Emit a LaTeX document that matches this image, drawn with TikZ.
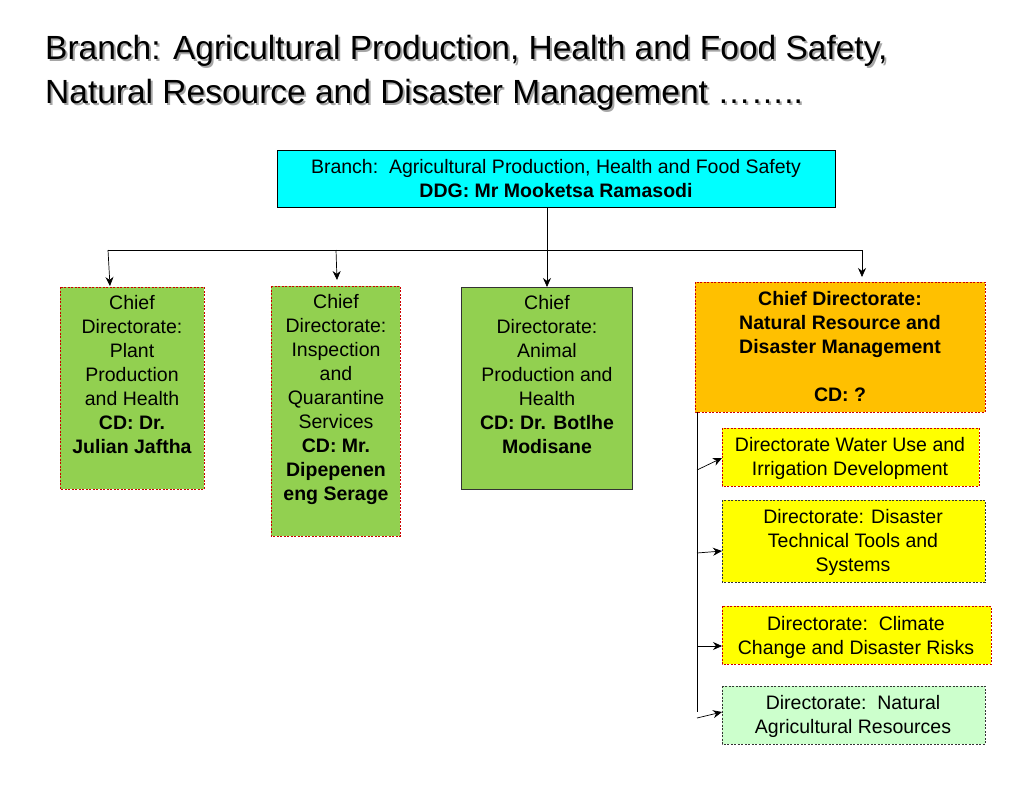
\documentclass[tikz,border=0pt]{standalone}
\usepackage{fontspec}
\usetikzlibrary{arrows.meta}
\setmainfont{Liberation Sans}
\definecolor{cgreen}{HTML}{92D050}
\definecolor{corange}{HTML}{FFC000}
\definecolor{ccyan}{HTML}{00FFFF}
\definecolor{cyel}{HTML}{FFFF00}
\definecolor{clgreen}{HTML}{CCFFCC}
\begin{document}
\begin{tikzpicture}[x=1pt,y=-1pt,
 reddash/.style={draw=red!80!black, dash pattern=on 2pt off 1.5pt},
 darkdash/.style={draw=black!80, dash pattern=on 2pt off 1.5pt},
 txt/.style={align=center, font=\fontsize{19.5}{24}\selectfont},
 ttl/.style={anchor=west, inner sep=0pt, font=\fontsize{33.5}{40}\selectfont},
 arr/.style={-{Stealth[length=9pt,width=8pt]}, line width=0.7pt}]
\useasboundingbox (0,0) rectangle (1024,808);
\fill[white] (0,0) rectangle (1024,808);
% title
\node[ttl, text=black!35] (tsh) at (47,53) {Branch: Agricultural Production, Health and Food Safety,};
\node[ttl] (t1) at (45,51) {Branch: Agricultural Production, Health and Food Safety,};
\node[ttl, text=black!35] (tsh2) at (47,97) {Natural Resource and Disaster Management ……..};
\node[ttl] (t2) at (45,95) {Natural Resource and Disaster Management ……..};
% top box
\filldraw[fill=ccyan, draw=black, line width=0.6pt] (277,150) rectangle (835,207);
\node[txt] (top) at (556,179) {Branch:\ \ Agricultural Production, Health and Food Safety\\\textbf{DDG: Mr Mooketsa Ramasodi}};
\coordinate (tb) at (547,207);
\coordinate (tj) at (547,250);
% boxes
\filldraw[fill=cgreen, reddash] (60,287) rectangle (204,489);
\node[txt] (b1) at (132,375) {Chief\\Directorate:\\Plant\\Production\\and Health\\\textbf{CD: Dr.}\\\textbf{Julian Jaftha}};
\filldraw[fill=cgreen, reddash] (271,286) rectangle (400,536);
\node[txt] (b2) at (336,399) {Chief\\Directorate:\\Inspection\\and\\Quarantine\\Services\\\textbf{CD: Mr.}\\\textbf{Dipepenen}\\\textbf{eng Serage}};
\filldraw[fill=cgreen, draw=black!80, line width=0.6pt] (461,287) rectangle (632,489);
\node[txt] (b3) at (547,375) {Chief\\Directorate:\\Animal\\Production and\\Health\\\textbf{CD: Dr. Botlhe}\\\textbf{Modisane}};
\filldraw[fill=corange, reddash] (695,282) rectangle (985,412);
\node[txt, font=\bfseries\fontsize{19.5}{24}\selectfont] (b4) at (840,347) {Chief Directorate:\\Natural Resource and\\Disaster Management\\ \\CD: ?};
% sub boxes
\filldraw[fill=cyel, reddash] (722,428) rectangle (979,486);
\node[txt] (s1) at (850,458) {Directorate Water Use and\\Irrigation Development};
\filldraw[fill=cyel, darkdash] (722,500) rectangle (985,582);
\node[txt] (s2) at (853,542) {Directorate: Disaster\\Technical Tools and\\Systems};
\filldraw[fill=cyel, reddash] (722,606) rectangle (991,664);
\node[txt] (s3) at (856,637) {Directorate:\ \ Climate\\Change and Disaster Risks};
\filldraw[fill=clgreen, darkdash] (722,686) rectangle (985,744);
\node[txt] (s4) at (853,716) {Directorate:\ \ Natural\\Agricultural Resources};
% connectors
\draw[line width=0.7pt] (tb) -- (tj);
\draw[line width=0.7pt] (108,250) -- (862,250);
\draw[arr] (108,250) -- (110,286);
\draw[arr] (336,250) -- (337,280);
\draw[arr] (547,250) -- (547,287);
\draw[arr] (862,250) -- (862,277);
\coordinate (vt) at (697,412);
\coordinate (vb) at (697,712);
\draw[line width=0.7pt] (vt) -- (vb);
\draw[arr] (697,470) -- (722,458);
\draw[arr] (697,553) -- (722,551);
\draw[arr] (697,646) -- (722,646);
\draw[arr] (697,718) -- (722,712);
\end{tikzpicture}
\end{document}
